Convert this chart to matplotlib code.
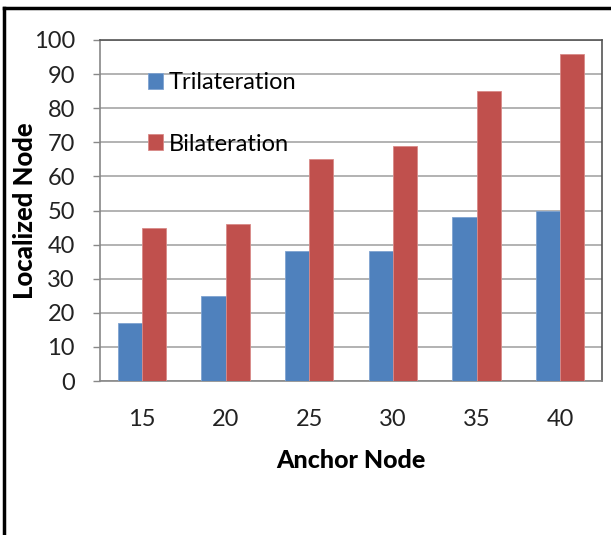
import matplotlib
matplotlib.use("Agg")
import matplotlib.pyplot as plt
from matplotlib.lines import Line2D
import numpy as np

anchor_nodes = ["15", "20", "25", "30", "35", "40"]
trilateration = [17, 25, 38, 38, 48, 50]
bilateration = [45, 46, 65, 69, 85, 96]
y_ticks = [0, 10, 20, 30, 40, 50, 60, 70, 80, 90, 100]

W, H = 611, 535
fig = plt.figure(figsize=(W / 100, H / 100), dpi=100)
fig.patch.set_facecolor("white")

FONT = "Lato"
plt.rcParams["font.family"] = [FONT, "DejaVu Sans"]

ax = fig.add_axes([100 / W, (H - 381) / H, 502 / W, 341 / H])

x = np.arange(len(anchor_nodes))
bw = 0.287
ax.bar(x - bw / 2, trilateration, bw, color="#4F81BD", edgecolor="#7FA3D0",
       linewidth=0.6, label="Trilateration", zorder=3)
ax.bar(x + bw / 2, bilateration, bw, color="#C0504D", edgecolor="#D98A88",
       linewidth=0.6, label="Bilateration", zorder=3)

ax.set_xlim(-0.5, len(anchor_nodes) - 0.5)
ax.set_ylim(0, 100)
ax.set_yticks(y_ticks)
ax.set_yticklabels([str(v) for v in y_ticks], fontsize=17, color="#222222")
ax.set_xticks(x)
ax.set_xticklabels(anchor_nodes, fontsize=17, color="#222222")
ax.tick_params(axis="y", length=5, width=1, color="#888888", pad=13)
ax.tick_params(axis="x", length=0, pad=20)

ax.grid(axis="y", color="#A6A6A6", linewidth=1.2, zorder=0)
ax.set_axisbelow(True)

for side in ("top", "right"):
    ax.spines[side].set_color("#555555")
    ax.spines[side].set_linewidth(1.2)
for side in ("left", "bottom"):
    ax.spines[side].set_color("#888888")
    ax.spines[side].set_linewidth(1.2)

ax.set_xlabel("Anchor Node", fontsize=18, fontweight="black", labelpad=14)
ax.set_ylabel("Localized Node", fontsize=18.5, fontweight="black")
ax.yaxis.set_label_coords(-0.125, 0.5)

ax.legend(loc="upper left", bbox_to_anchor=(0.076, 0.934), frameon=False,
          fontsize=17, handlelength=0.65, handleheight=0.65, handletextpad=0.25,
          labelspacing=1.72, borderaxespad=0)

# outer chart border
fig.add_artist(Line2D([4 / W, 1.0], [1 - 8 / H, 1 - 8 / H], color="black",
                      linewidth=2.5, transform=fig.transFigure))
fig.add_artist(Line2D([4 / W, 4 / W], [0.0, 1 - 8 / H], color="black",
                      linewidth=2.5, transform=fig.transFigure))

fig.savefig("out.png", dpi=100)
